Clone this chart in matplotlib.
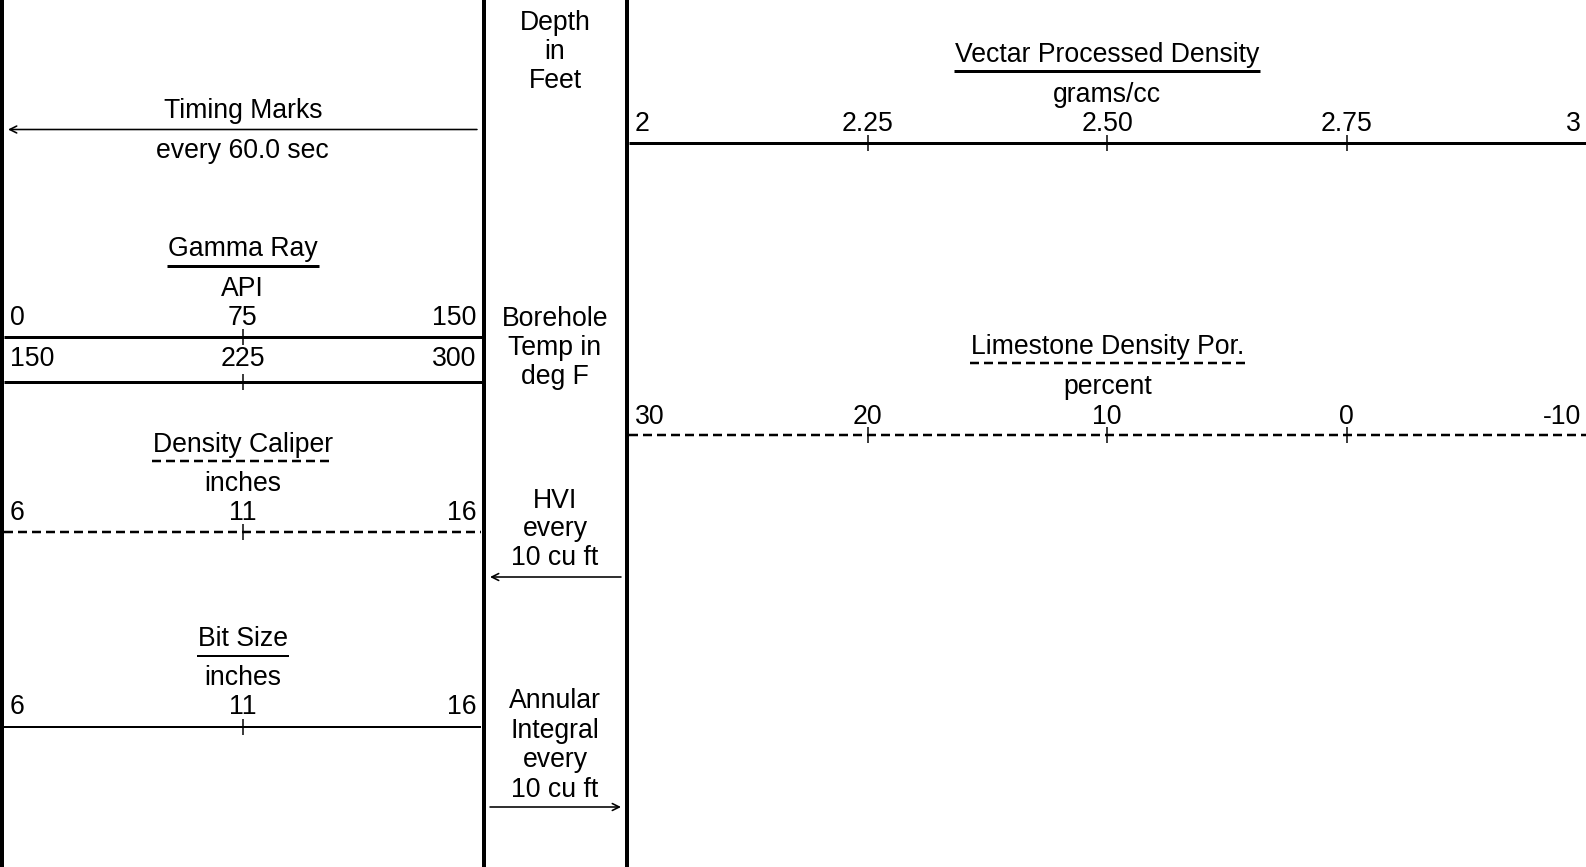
import matplotlib
matplotlib.use("Agg")
import matplotlib.pyplot as plt

# ---- scale definitions ----
gr_ticks = [0, 75, 150]
temp_ticks = [150, 225, 300]
cal_ticks = [6, 11, 16]
bit_ticks = [6, 11, 16]
rho_ticks = [2, 2.25, 2.50, 2.75, 3]
rho_labels = ["2", "2.25", "2.50", "2.75", "3"]
por_ticks = [30, 20, 10, 0, -10]
por_labels = ["30", "20", "10", "0", "-10"]

W, H = 1586, 867
DPI = 100
PX = 72.0 / DPI  # points per pixel
FS = 19.2
DY = 1.5  # baseline nudge for text rows

plt.rcParams["font.family"] = ["Liberation Sans", "DejaVu Sans"]
plt.rcParams["lines.scale_dashes"] = False
DASH = (0, (9 * PX, 5 * PX))

fig = plt.figure(figsize=(W / DPI, H / DPI), dpi=DPI)
base = fig.add_axes([0, 0, 1, 1])
base.set_xlim(0, W)
base.set_ylim(H, 0)
base.axis("off")

# track borders
for xb in (2, 483.5, 626.5):
    base.vlines(xb, 0, H, color="black", lw=4 * PX)

LEFT = (4, 481.5)
MID_C = 555
RIGHT = (628.5, 1586)


def txt(ax, x, y, s, ha="center", dx=0):
    return ax.annotate(s, (x, y + DY), xytext=(dx * PX, 0), textcoords="offset points",
                       ha=ha, va="center", fontsize=FS, color="black")


def header(x, y_title, title, y_ul, ul_style, ul_lw, y_unit, unit):
    t = txt(base, x, y_title, title)
    fig.canvas.draw()
    bb = t.get_window_extent()
    x0 = bb.x0 - 1
    x1 = bb.x1 + 1
    base.plot([x0, x1], [y_ul, y_ul], color="black", lw=ul_lw * PX, ls=ul_style,
              solid_capstyle="butt")
    txt(base, x, y_unit, unit)


def scale(span, ticks, labels, y_lab, y_line, lw, ls="-"):
    ax = fig.add_axes([span[0] / W, 0, (span[1] - span[0]) / W, 1])
    ax.set_xlim(ticks[0], ticks[-1])
    ax.set_ylim(H, 0)
    ax.axis("off")
    ax.plot([ticks[0], ticks[-1]], [y_line, y_line], color="black", lw=lw * PX, ls=ls,
            solid_capstyle="butt", clip_on=False)
    ax.vlines(ticks[1:-1], y_line - 8, y_line + 8, color="black", lw=1.5 * PX)
    for i, (v, s) in enumerate(zip(ticks, labels)):
        if i == 0:
            txt(ax, v, y_lab, s, ha="left", dx=6)
        elif i == len(ticks) - 1:
            txt(ax, v, y_lab, s, ha="right", dx=-5)
        else:
            txt(ax, v, y_lab, s)


LC = (LEFT[0] + LEFT[1]) / 2
RC = (RIGHT[0] + RIGHT[1]) / 2
ARROW = dict(arrowstyle="->,head_length=0.5,head_width=0.25",
             lw=1.6 * PX, color="black", shrinkA=0, shrinkB=0)

# ---- left track ----
txt(base, LC, 110, "Timing Marks")
base.annotate("", xy=(8, 129.5), xytext=(477, 129.5), arrowprops=ARROW)
txt(base, LC, 150, "every 60.0 sec")

header(LC, 248, "Gamma Ray", 265.5, "-", 3, 287, "API")
scale(LEFT, gr_ticks, [str(v) for v in gr_ticks], 316.5, 337, 3)
scale(LEFT, temp_ticks, [str(v) for v in temp_ticks], 358, 381.5, 3)

header(LC, 443, "Density Caliper", 461, DASH, 2.5, 482.5, "inches")
scale(LEFT, cal_ticks, [str(v) for v in cal_ticks], 511.5, 532, 2.5, DASH)

header(LC, 638, "Bit Size", 655.5, "-", 2, 676.5, "inches")
scale(LEFT, bit_ticks, [str(v) for v in bit_ticks], 706, 726.5, 2)

# ---- depth track ----
for i, s in enumerate(["Depth", "in", "Feet"]):
    txt(base, MID_C, 21 + 29.5 * i, s)
for i, s in enumerate(["Borehole", "Temp in", "deg F"]):
    txt(base, MID_C, 317 + 29.3 * i, s)
for i, s in enumerate(["HVI", "every", "10 cu ft"]):
    txt(base, MID_C, 499 + 28.8 * i, s)
base.annotate("", xy=(490, 577), xytext=(621, 577), arrowprops=ARROW)
for i, s in enumerate(["Annular", "Integral", "every", "10 cu ft"]):
    txt(base, MID_C, 699.5 + 29.6 * i, s)
base.annotate("", xy=(621, 807), xytext=(490, 807), arrowprops=ARROW)

# ---- density track ----
header(RC, 54, "Vectar Processed Density", 71, "-", 3, 93, "grams/cc")
scale(RIGHT, rho_ticks, rho_labels, 122.5, 142.5, 3)

header(RC, 346, "Limestone Density Por.", 363, DASH, 2.5, 385.5, "percent")
scale(RIGHT, por_ticks, por_labels, 415, 435, 2.5, DASH)

fig.savefig("out.png", dpi=DPI, facecolor="white")
